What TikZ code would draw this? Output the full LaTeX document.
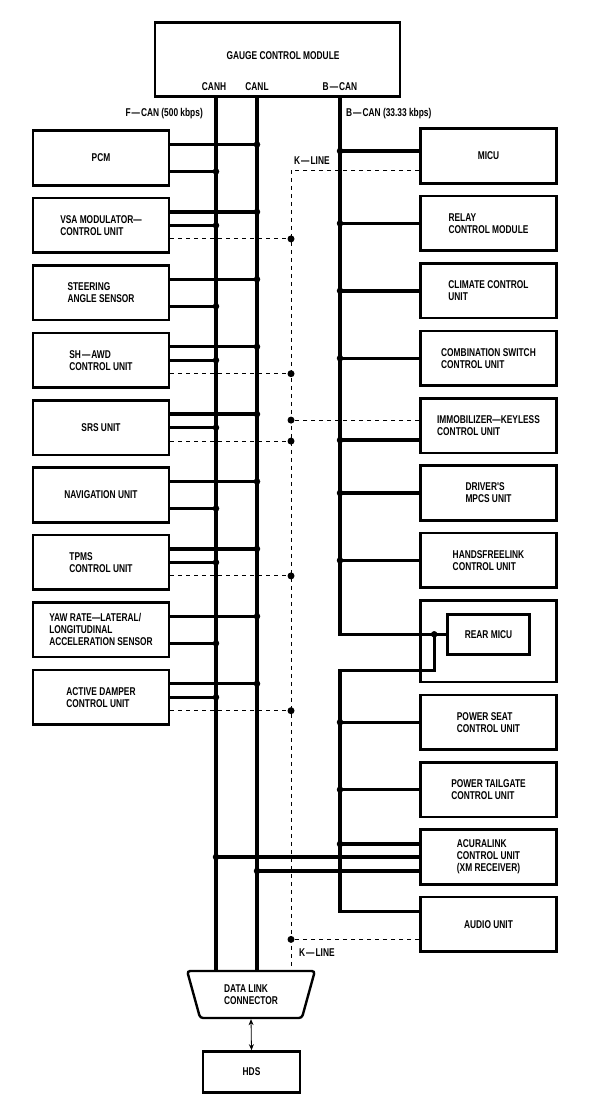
\documentclass[tikz,border=0pt]{standalone}
\usepackage{fontspec}
\newfontfamily\ecufont{Liberation Sans}[FakeStretch=0.74]
\usepackage{tikz}
\usetikzlibrary{arrows.meta,positioning,shapes.geometric}
\newcommand{\ecutxt}{\ecufont\bfseries\fontsize{11.3}{12}\selectfont}
\tikzset{
  ecu/.style={draw, line width=2.6pt, minimum width=136pt, minimum height=54.5pt,
              inner sep=0pt, align=left, font=\ecutxt},
  lbl/.style={inner sep=0pt, font=\ecutxt},
  bus/.style={line width=3.4pt},
  kline/.style={line width=0.9pt, dash pattern=on 4pt off 4pt},
  dot/.style={circle, fill, inner sep=0pt, minimum size=6.5pt},
  kdot/.style={circle, fill, inner sep=0pt, minimum size=7pt},
  link/.style={{Stealth[length=6pt,width=5pt]}-{Stealth[length=6pt,width=5pt]}, line width=0.8pt},
}

\begin{document}
\begin{tikzpicture}[x=1pt, y=-1pt, node distance=10.3pt]
  \useasboundingbox (0,0) rectangle (608,1110);
  % gauge control module
  \node[ecu, minimum width=245pt, minimum height=74pt, line width=2.8pt] (gcm) at (277.5,59.5) {};
  \node[lbl] (gcmname) at (283,56) {GAUGE CONTROL MODULE};
  \coordinate (canh) at (216,96);
  \coordinate (canl) at (257,96);
  \coordinate (bcan) at (340,96);
  \coordinate (kline) at (291,171);
  \node[lbl, above=5pt of canh, xshift=-2pt] (canhlbl) {CANH};
  \node[lbl, above=5pt of canl] (canllbl) {CANL};
  \node[lbl, above=5pt of bcan] (bcanlbl) {B\kern1pt—\kern1pt CAN};
  \node[lbl, anchor=east] (fcanlbl) at (203,114) {F\kern1pt—\kern1pt CAN (500 kbps)};
  \node[lbl, anchor=west] (bcanrate) at (346,114) {B\kern1pt—\kern1pt CAN (33.33 kbps)};
  \node[lbl, anchor=west] (klinetop) at (294,161) {K\kern1pt—\kern1pt LINE};
  \node[lbl, anchor=west] (klinebot) at (299,953) {K\kern1pt—\kern1pt LINE};

  % F-CAN units
  \node[ecu] (pcm) at (101,158) {PCM};
  \node[ecu, below=of pcm] (vsa) {VSA MODULATOR—\\CONTROL UNIT};
  \node[ecu, below=of vsa] (steer) {STEERING\\ANGLE SENSOR};
  \node[ecu, below=of steer] (shawd) {SH\kern1pt—\kern1pt AWD\\CONTROL UNIT};
  \node[ecu, below=of shawd] (srs) {SRS UNIT};
  \node[ecu, below=of srs] (navi) {NAVIGATION UNIT};
  \node[ecu, below=of navi] (tpms) {TPMS\\CONTROL UNIT};
  \node[ecu, below=of tpms] (yaw) {YAW RATE—LATERAL/\\LONGITUDINAL\\ACCELERATION SENSOR};
  \node[ecu, below=of yaw] (damper) {ACTIVE DAMPER\\CONTROL UNIT};

  % B-CAN units
  \node[ecu] (micu) at (488.5,156) {MICU};
  \node[ecu, below=of micu] (relay) {RELAY\\CONTROL MODULE};
  \node[ecu, below=of relay] (climate) {CLIMATE CONTROL\\UNIT};
  \node[ecu, below=of climate] (combsw) {COMBINATION SWITCH\\CONTROL UNIT};
  \node[ecu, below=of combsw] (immob) {IMMOBILIZER—KEYLESS\\CONTROL UNIT};
  \node[ecu, below=of immob] (mpcs) {DRIVER'S\\MPCS UNIT};
  \node[ecu, below=of mpcs] (hfl) {HANDSFREELINK\\CONTROL UNIT};
  \node[ecu, minimum height=81.5pt, below=of hfl] (rear) {};
  \node[ecu, minimum width=82pt, minimum height=40pt] (rearmicu) at ([yshift=7pt]rear.center) {REAR MICU};
  \node[ecu, below=of rear] (pseat) {POWER SEAT\\CONTROL UNIT};
  \node[ecu, below=of pseat] (ptail) {POWER TAILGATE\\CONTROL UNIT};
  \node[ecu, below=of ptail] (acura) {ACURALINK\\CONTROL UNIT\\(XM RECEIVER)};
  \node[ecu, below=of acura] (audio) {AUDIO UNIT};

  % diagnosis
  \node[draw, line width=2.4pt, trapezium, shape border rotate=180, trapezium angle=71,
        trapezium stretches=true, minimum width=128pt, minimum height=47pt,
        rounded corners=3pt, inner sep=0pt, align=left, font=\ecutxt] (dlc) at (251,994.5) {DATA LINK\\CONNECTOR};
  \node[ecu, minimum width=97pt, minimum height=41pt] (hds) at (251.5,1072) {HDS};
  \draw[link] (dlc.south) -- (hds.north);

  % F-CAN bus
  \draw[bus] (canh) -- (canh |- dlc.north);
  \draw[bus] (canl) -- (canl |- dlc.north);
  \draw[bus] ([yshift=13.5pt]pcm.east) coordinate (t) -- (t -| canl) node[dot] {};
  \draw[bus] ([yshift=-13.5pt]pcm.east) coordinate (t) -- (t -| canh) node[dot] {};
  \draw[bus] ([yshift=13.5pt]vsa.east) coordinate (t) -- (t -| canl) node[dot] {};
  \draw[bus] (vsa.east) -- (vsa.east -| canh) node[dot] {};
  \draw[bus] ([yshift=13.5pt]steer.east) coordinate (t) -- (t -| canl) node[dot] {};
  \draw[bus] ([yshift=-13.5pt]steer.east) coordinate (t) -- (t -| canh) node[dot] {};
  \draw[bus] ([yshift=13.5pt]shawd.east) coordinate (t) -- (t -| canl) node[dot] {};
  \draw[bus] (shawd.east) -- (shawd.east -| canh) node[dot] {};
  \draw[bus] ([yshift=13.5pt]srs.east) coordinate (t) -- (t -| canl) node[dot] {};
  \draw[bus] (srs.east) -- (srs.east -| canh) node[dot] {};
  \draw[bus] ([yshift=13.5pt]navi.east) coordinate (t) -- (t -| canl) node[dot] {};
  \draw[bus] ([yshift=-13.5pt]navi.east) coordinate (t) -- (t -| canh) node[dot] {};
  \draw[bus] ([yshift=13.5pt]tpms.east) coordinate (t) -- (t -| canl) node[dot] {};
  \draw[bus] (tpms.east) -- (tpms.east -| canh) node[dot] {};
  \draw[bus] ([yshift=13.5pt]yaw.east) coordinate (t) -- (t -| canl) node[dot] {};
  \draw[bus] ([yshift=-13.5pt]yaw.east) coordinate (t) -- (t -| canh) node[dot] {};
  \draw[bus] ([yshift=13.5pt]damper.east) coordinate (t) -- (t -| canl) node[dot] {};
  \draw[bus] (damper.east) -- (damper.east -| canh) node[dot] {};

  % B-CAN bus
  \coordinate (rearjn) at ([xshift=-12pt]rearmicu.west);
  \coordinate (lowbend) at ([yshift=13pt]rear.south);
  \draw[bus] (bcan) |- (rearmicu.west);
  \draw[bus] (rearjn) -- (rearjn |- lowbend) -- (bcan |- lowbend) |- ([yshift=13pt]audio.west);
  \node[dot] at (rearjn) {};
  \draw[bus] ([yshift=5pt]micu.west) coordinate (t) -- (t -| bcan) node[dot] {};
  \draw[bus] (relay.west) -- (relay.west -| bcan) node[dot] {};
  \draw[bus] (climate.west) -- (climate.west -| bcan) node[dot] {};
  \draw[bus] (combsw.west) -- (combsw.west -| bcan) node[dot] {};
  \draw[bus] ([yshift=-14.5pt]immob.west) coordinate (t) -- (t -| bcan) node[dot] {};
  \draw[bus] (mpcs.west) -- (mpcs.west -| bcan) node[dot] {};
  \draw[bus] (hfl.west) -- (hfl.west -| bcan) node[dot] {};
  \draw[bus] (pseat.west) -- (pseat.west -| bcan) node[dot] {};
  \draw[bus] (ptail.west) -- (ptail.west -| bcan) node[dot] {};
  \draw[bus] ([yshift=13pt]acura.west) coordinate (t) -- (t -| bcan) node[dot] {};
  \draw[bus] (acura.west) -- (acura.west -| canh) node[dot] {};
  \draw[bus] ([yshift=-14pt]acura.west) coordinate (t) -- (t -| canl) node[dot] {};

  % K-line
  \draw[kline] ([yshift=-14pt]micu.west) -| (kline |- dlc.north);
  \draw[kline] ([yshift=-13.5pt]vsa.east) coordinate (t) -- (t -| kline) node[kdot] {};
  \draw[kline] ([yshift=-13.5pt]shawd.east) coordinate (t) -- (t -| kline) node[kdot] {};
  \draw[kline] ([yshift=5.5pt]immob.west) coordinate (t) -- (t -| kline) node[kdot] {};
  \draw[kline] ([yshift=-13.5pt]srs.east) coordinate (t) -- (t -| kline) node[kdot] {};
  \draw[kline] ([yshift=-13.5pt]tpms.east) coordinate (t) -- (t -| kline) node[kdot] {};
  \draw[kline] ([yshift=-13.5pt]damper.east) coordinate (t) -- (t -| kline) node[kdot] {};
  \draw[kline] ([yshift=-15pt]audio.west) coordinate (t) -- (t -| kline) node[kdot] {};
\end{tikzpicture}
\end{document}
